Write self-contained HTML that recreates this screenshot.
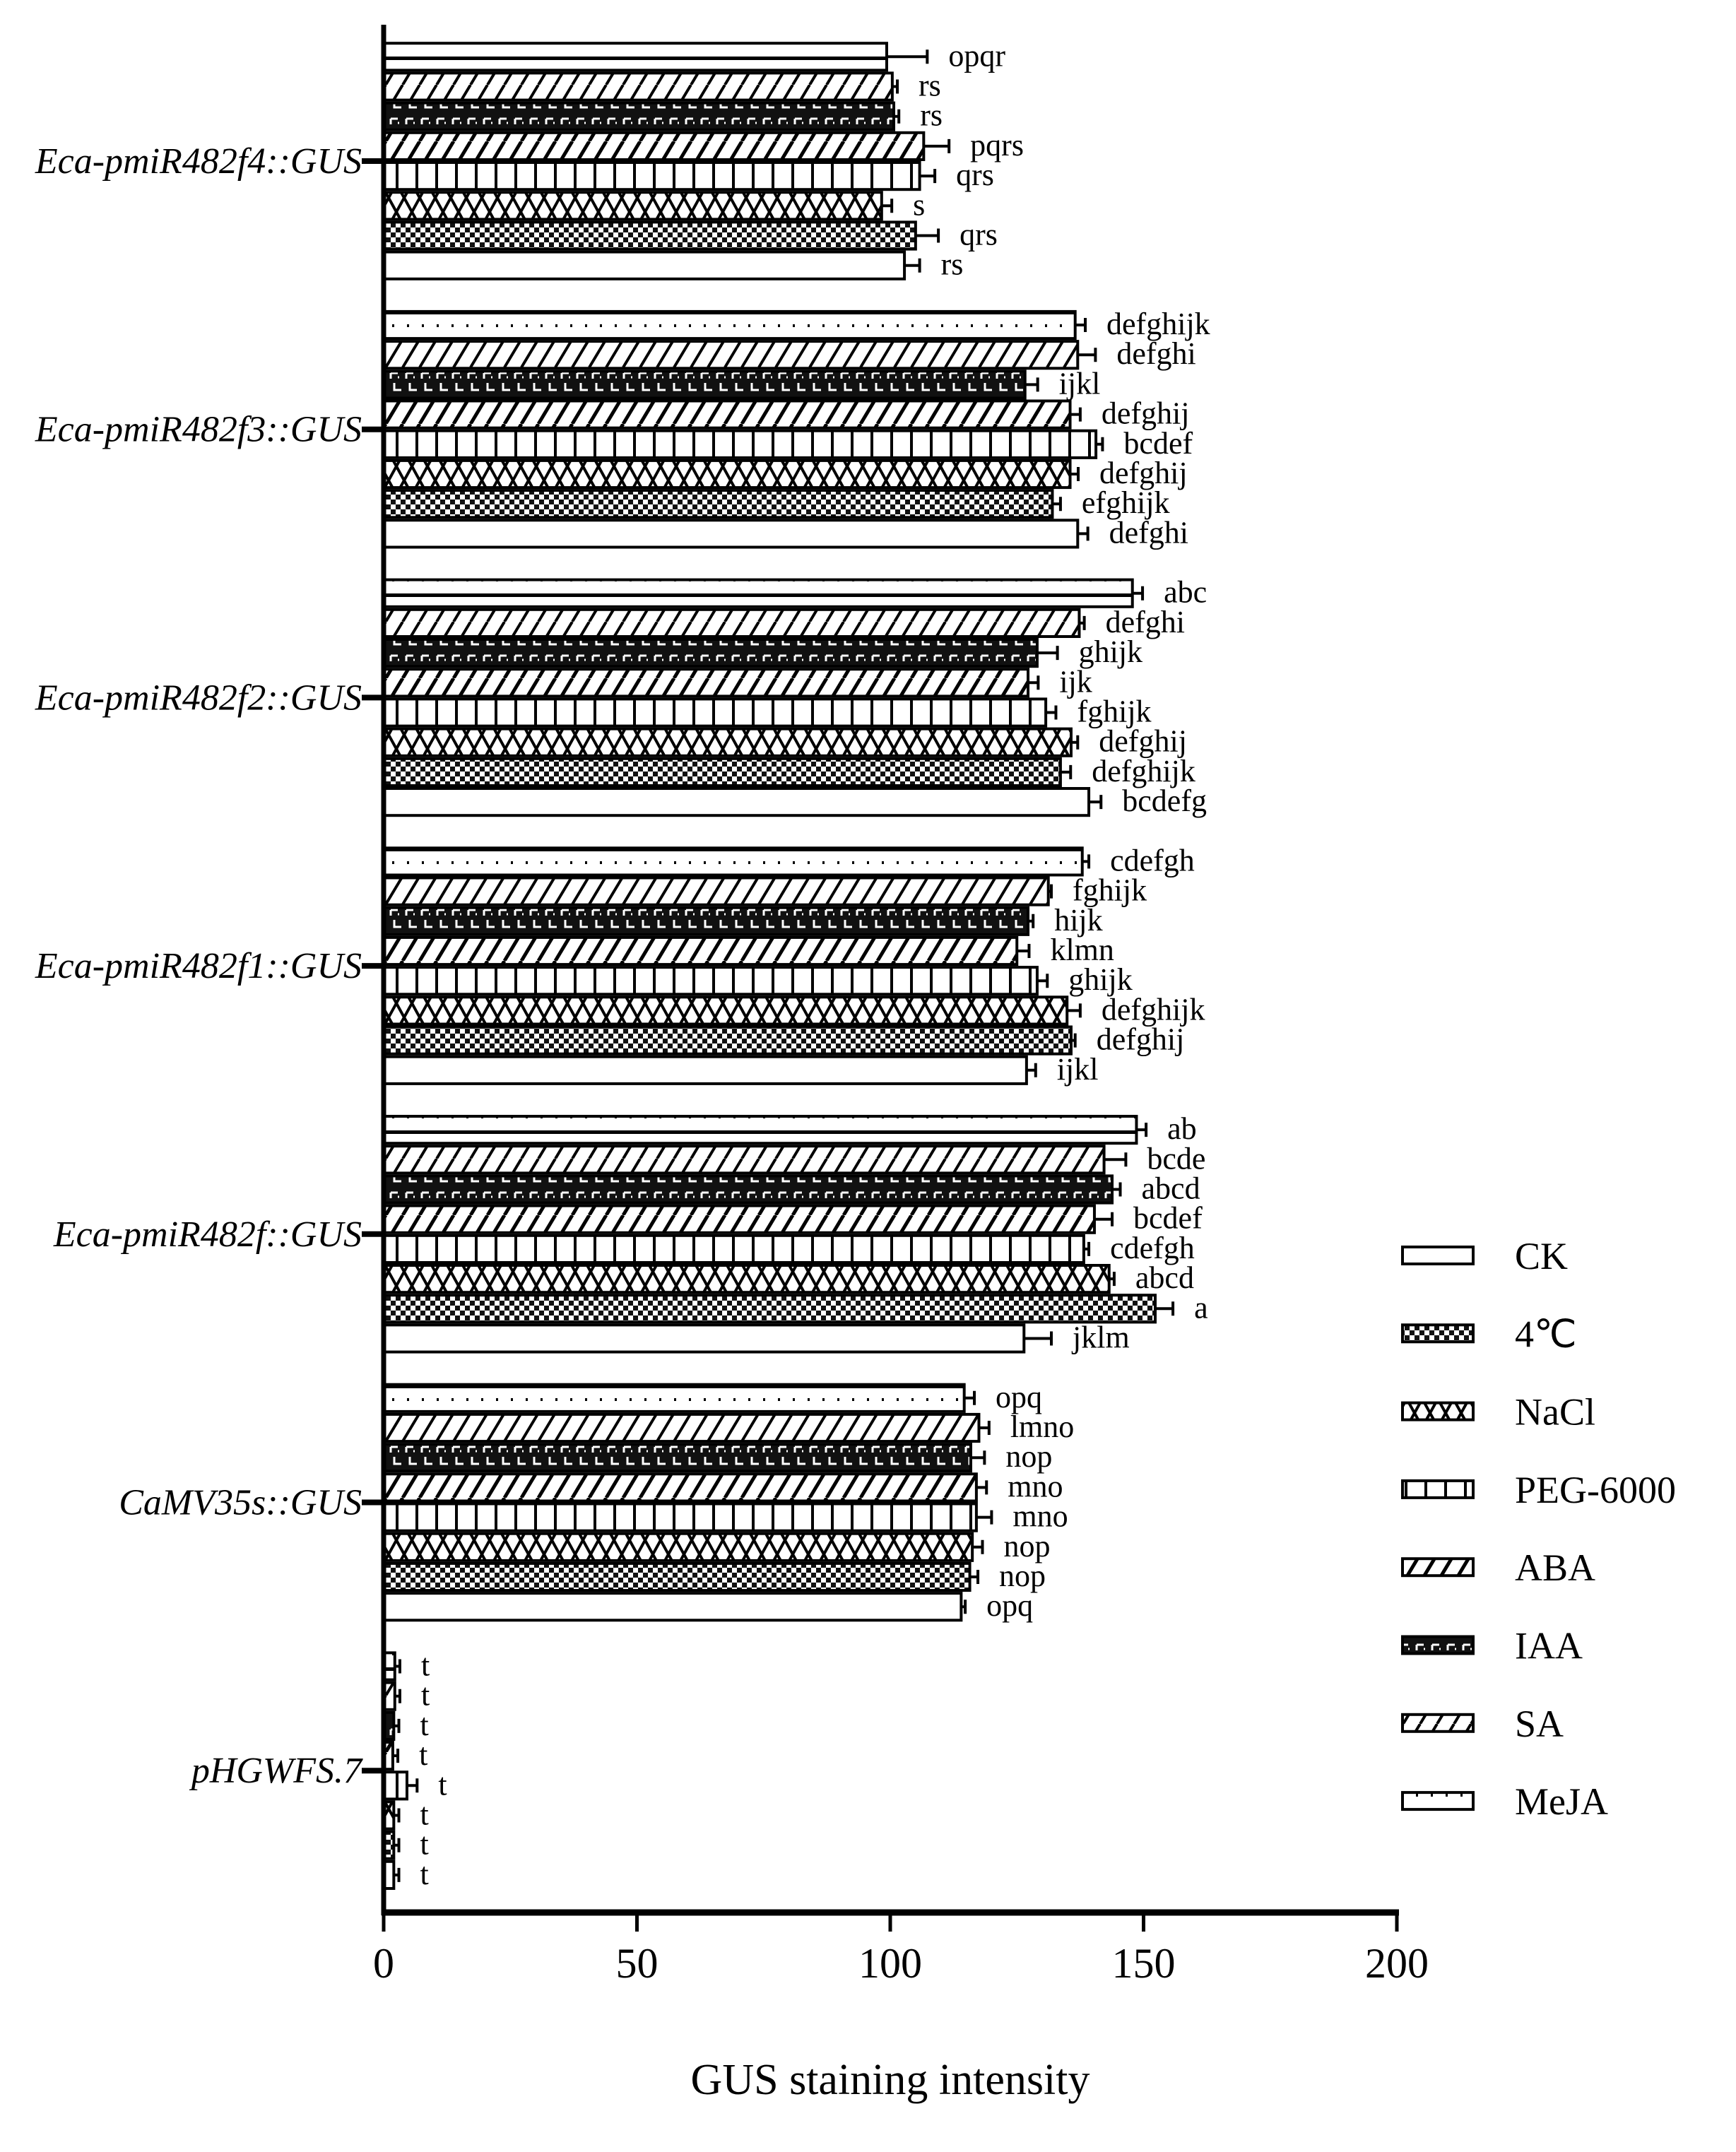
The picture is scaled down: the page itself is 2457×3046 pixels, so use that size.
<!DOCTYPE html>
<html><head><meta charset="utf-8"><style>
html,body{margin:0;padding:0;background:#fff;}
svg{display:block;font-family:"Liberation Serif",serif;}
</style></head><body>
<svg id="chart" width="2457" height="3046" viewBox="0 0 2457 3046" xmlns="http://www.w3.org/2000/svg">
<defs>
<pattern id="p-ck" width="10" height="10" patternUnits="userSpaceOnUse"><rect width="10" height="10" fill="#fff"/></pattern>
<pattern id="p-4c" width="14" height="14" patternUnits="userSpaceOnUse"><rect width="14" height="14" fill="#fff"/><rect width="7" height="7" fill="#111"/><rect x="7" y="7" width="7" height="7" fill="#111"/></pattern>
<pattern id="p-nacl" width="22" height="40" patternUnits="userSpaceOnUse"><rect width="22" height="40" fill="#fff"/><path d="M0 40 L22 0 M0 0 L11 20 M11 20 L22 40" stroke="#000" stroke-width="4" fill="none"/></pattern>
<pattern id="p-peg" width="28" height="10" patternUnits="userSpaceOnUse"><rect width="28" height="10" fill="#fff"/><rect x="0" width="4" height="10" fill="#000"/></pattern>
<pattern id="p-aba" width="24" height="40" patternUnits="userSpaceOnUse"><rect width="24" height="40" fill="#fff"/><path d="M-6 40 L18 0 M18 40 L42 0" stroke="#000" stroke-width="5"/></pattern>
<pattern id="p-iaa" width="22" height="40" patternUnits="userSpaceOnUse"><rect width="22" height="40" fill="#111"/><path d="M3 8 h10 M3 8 v8 M8 22 v10 h10 M13 14 h2" stroke="#fff" stroke-width="3" fill="none"/></pattern>
<pattern id="p-sa" width="24" height="40" patternUnits="userSpaceOnUse"><rect width="24" height="40" fill="#fff"/><path d="M-6 40 L18 0 M18 40 L42 0" stroke="#000" stroke-width="4"/></pattern>
<pattern id="p-meja" width="21" height="40" patternUnits="userSpaceOnUse"><rect width="21" height="40" fill="#fff"/><rect x="9" y="19" width="3" height="4" fill="#000"/><rect x="0" y="0" width="21" height="5" fill="#000"/></pattern>
</defs>
<g id="plot"></g>
</svg>
<script>
const groups = ["Eca-pmiR482f4::GUS","Eca-pmiR482f3::GUS","Eca-pmiR482f2::GUS","Eca-pmiR482f1::GUS","Eca-pmiR482f::GUS","CaMV35s::GUS","pHGWFS.7"];
const series = ["MeJA","SA","IAA","ABA","PEG-6000","NaCl","4℃","CK"];
const patterns = ["p-meja","p-sa","p-iaa","p-aba","p-peg","p-nacl","p-4c","p-ck"];
const valMeJA = [99.3,136.5,147.8,137.9,148.6,114.6,2.2];
const valSA   = [100.4,137,137.3,131.2,142.2,117.5,2.2];
const valIAA  = [100.7,126.6,129,127.2,143.8,115.9,2];
const valABA  = [106.6,135.5,127.2,125,140.3,117,1.8];
const valPEG  = [105.8,140.6,130.7,129,138.2,117,4.6];
const valNaCl = [98.3,135.5,135.7,134.9,143.2,116.2,2];
const val4C   = [105,132,133.6,135.7,152.3,115.7,2];
const valCK   = [102.8,137,139.2,126.9,126.4,114,2];
const errMeJA = [8,2,2,1.3,1.9,2,1];
const errSA   = [1,3.5,1,0.6,4.3,2,1];
const errIAA  = [1,2.5,4,1,1.6,2.7,1];
const errABA  = [5,2,2,2.4,3.5,2,1];
const errPEG  = [3,1.3,2,2,1,3,2];
const errNaCl = [2,1.6,1.3,2.6,1,2,1];
const err4C   = [4.5,1.6,2,0.8,3.5,1.6,1];
const errCK   = [3,2,2.4,1.8,5.4,0.8,1];
const letMeJA = ["opqr","defghijk","abc","cdefgh","ab","opq","t"];
const letSA   = ["rs","defghi","defghi","fghijk","bcde","lmno","t"];
const letIAA  = ["rs","ijkl","ghijk","hijk","abcd","nop","t"];
const letABA  = ["pqrs","defghij","ijk","klmn","bcdef","mno","t"];
const letPEG  = ["qrs","bcdef","fghijk","ghijk","cdefgh","mno","t"];
const letNaCl = ["s","defghij","defghij","defghijk","abcd","nop","t"];
const let4C   = ["qrs","efghijk","defghijk","defghij","a","nop","t"];
const letCK   = ["rs","defghi","bcdefg","ijkl","jklm","opq","t"];
const xTicks = [0,50,100,150,200];
const legendOrder = ["CK","4℃","NaCl","PEG-6000","ABA","IAA","SA","MeJA"];

const vals=[valMeJA,valSA,valIAA,valABA,valPEG,valNaCl,val4C,valCK];
const errs=[errMeJA,errSA,errIAA,errABA,errPEG,errNaCl,err4C,errCK];
const lets=[letMeJA,letSA,letIAA,letABA,letPEG,letNaCl,let4C,letCK];
const NS="http://www.w3.org/2000/svg";
const g=document.getElementById('plot');
const X0=543,X1=1977,AX_Y=2707,TOP=35;
const GROUP_H=379.7,BAR_H=42.2,G0=228;
function xs(v){return X0+(v/200)*(X1-X0);}
function gc(i){return G0+i*GROUP_H;}
function mk(tag,attrs){const e=document.createElementNS(NS,tag);for(const k in attrs)e.setAttribute(k,attrs[k]);g.appendChild(e);return e;}

groups.forEach((name,gi)=>{
  const c=gc(gi);
  const top=c-BAR_H*4;
  series.forEach((s,si)=>{
    const y=top+si*BAR_H;
    const v=vals[si][gi],e=errs[si][gi];
    const r=mk('rect',{x:X0,y:y+2,width:xs(v)-X0,height:BAR_H-4,fill:'url(#'+patterns[si]+')',stroke:'#000','stroke-width':4});
    
    
    const ex=xs(v+e);
    const l=mk('path',{d:`M${xs(v)} ${y+BAR_H/2} H${ex} M${ex} ${y+BAR_H/2-10} V${y+BAR_H/2+10}`,stroke:'#000','stroke-width':4,fill:'none'});
    
    
    const t=mk('text',{x:ex+30,y:y+BAR_H/2+13,'font-size':44});
    t.textContent=lets[si][gi];
    
    
  });
  const lab=mk('text',{x:512,y:c+17,'font-size':52,'font-style':'italic','text-anchor':'end'});
  lab.textContent=name;
  
  
  const tk=mk('line',{x1:512,x2:X0,y1:c,y2:c,stroke:'#000','stroke-width':8});
  
  
});
const ya=mk('line',{x1:X0,x2:X0,y1:TOP,y2:AX_Y+4,stroke:'#000','stroke-width':7});


const xa=mk('line',{x1:X0-3,x2:X1+3,y1:AX_Y,y2:AX_Y,stroke:'#000','stroke-width':9});


xTicks.forEach(v=>{
  const tl=mk('line',{x1:xs(v),x2:xs(v),y1:AX_Y,y2:AX_Y+27,stroke:'#000','stroke-width':5});
  
  
  const tt=mk('text',{x:xs(v),y:AX_Y+92,'font-size':60,'text-anchor':'middle'});
  tt.textContent=v;
  
  
});
const xt=mk('text',{x:1260,y:2964,'font-size':62,'text-anchor':'middle'});
xt.textContent='GUS staining intensity';


legendOrder.forEach((s,i)=>{
  const si=series.indexOf(s);
  const cy=1777+i*110.3;
  const sw=mk('rect',{x:1985,y:cy-12,width:100,height:24,fill:'url(#'+patterns[si]+')',stroke:'#000','stroke-width':4});
  
  
  const lt=mk('text',{x:2144,y:cy+19,'font-size':54});
  lt.textContent=s;
  
  
});
</script>
</body></html>
